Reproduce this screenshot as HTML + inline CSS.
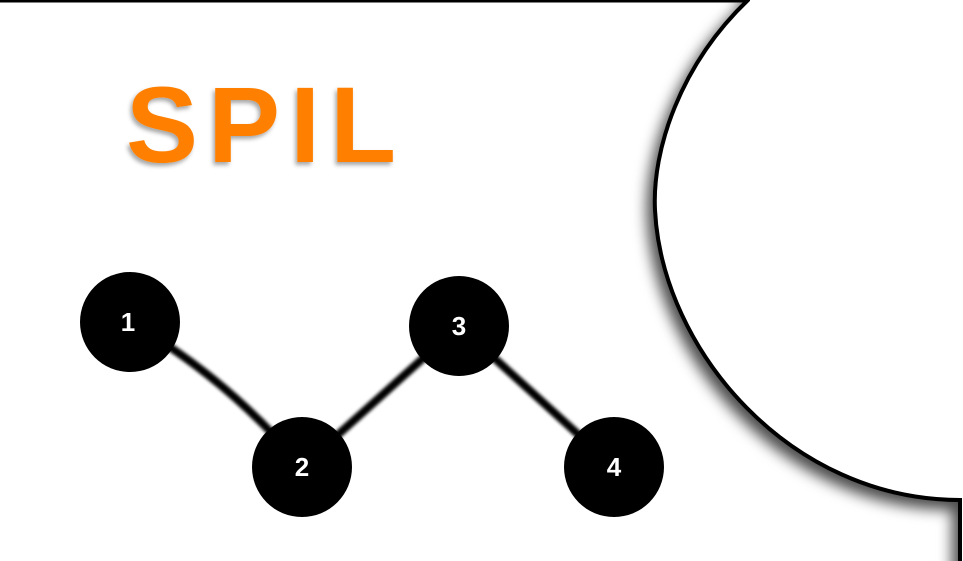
<!DOCTYPE html>
<html><head><meta charset="utf-8"><style>
html,body{margin:0;padding:0;background:#fff;width:963px;height:561px;overflow:hidden}
svg{display:block}
</style></head><body>
<svg width="963" height="561" viewBox="0 0 963 561">
<defs>
<filter id="sh" x="-30%" y="-30%" width="160%" height="160%"><feDropShadow dx="-6" dy="8" stdDeviation="7" flood-color="#000" flood-opacity="0.7"/></filter>
<filter id="bl"><feGaussianBlur stdDeviation="1.5"/></filter>
<filter id="ts"><feDropShadow dx="-2" dy="3" stdDeviation="2" flood-color="#000" flood-opacity="0.35"/></filter>
</defs>
<line x1="0" y1="1" x2="750" y2="1" stroke="#000" stroke-width="3"/>
<path d="M748,-10 L748,0 C680,65 652,150 655,210 C662,350 790,500 960,500 L960,580 L990,580 L990,-10 Z" fill="#fff" stroke="#000" stroke-width="4" filter="url(#sh)"/>
<text x="126" y="162" font-family="Liberation Sans, sans-serif" font-weight="bold" font-size="108" fill="#ff8000" letter-spacing="10" filter="url(#ts)">SPIL</text>
<g stroke="#000" stroke-width="8" fill="none" filter="url(#bl)">
<path d="M130,322 Q230,380 302,467"/>
<path d="M302,467 L459,326"/>
<path d="M459,326 L614,467"/>
</g>
<g font-family="Liberation Sans, sans-serif" font-weight="bold" font-size="26" fill="#fff" text-anchor="middle">
<circle cx="130" cy="322" r="50" fill="#000"/><text x="128" y="331">1</text>
<circle cx="302" cy="467" r="50" fill="#000"/><text x="302" y="476">2</text>
<circle cx="459" cy="326" r="50" fill="#000"/><text x="459" y="335">3</text>
<circle cx="614" cy="467" r="50" fill="#000"/><text x="614" y="476">4</text>
</g>
</svg>
</body></html>
